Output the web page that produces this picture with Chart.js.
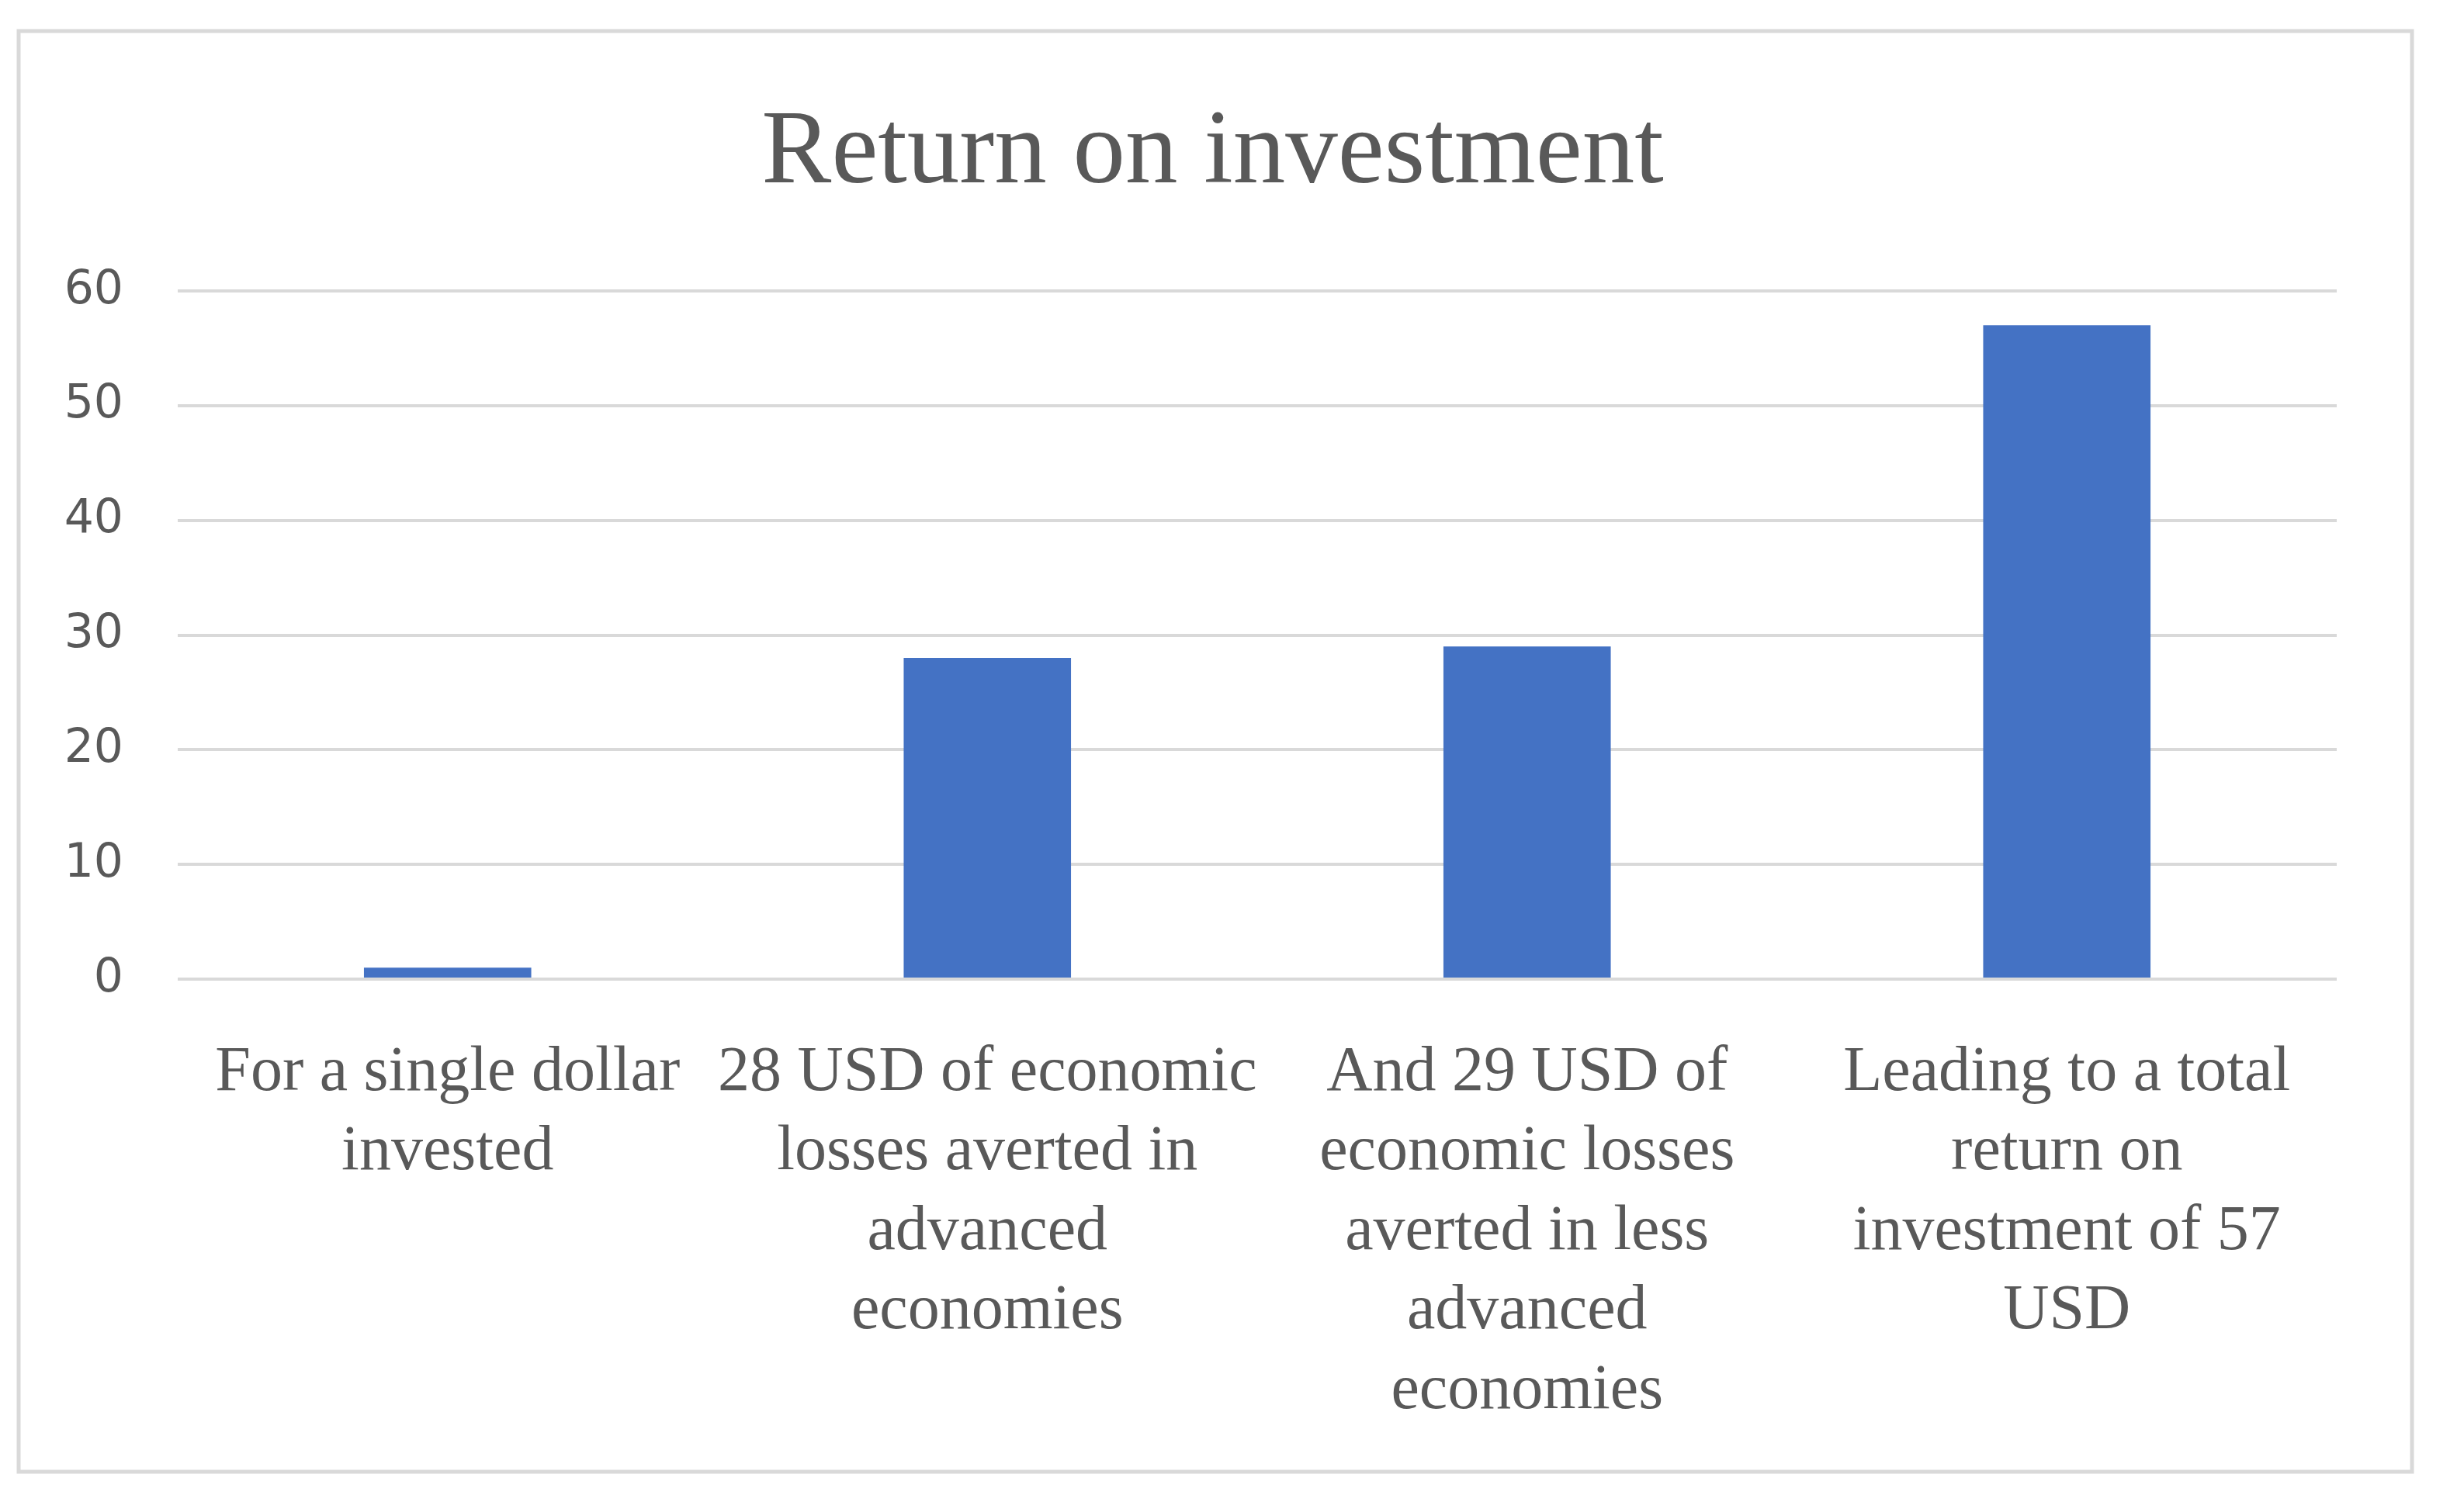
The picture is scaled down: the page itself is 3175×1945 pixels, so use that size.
<!DOCTYPE html>
<html>
<head>
<meta charset="utf-8">
<title>Return on investment</title>
<script src="https://cdn.jsdelivr.net/npm/chart.js@4.4.1/dist/chart.umd.min.js"></script>
<style>
  html, body { margin: 0; padding: 0; background: #ffffff; }
  #chart { display: block; }
</style>
</head>
<body>
<canvas id="chart" width="3175" height="1945"></canvas>
<script>
// Dados do gráfico
const titulo = 'Return on investment';
const categorias = [
    ['For a single dollar', 'invested'],
    ['28 USD of economic', 'losses averted in', 'advanced', 'economies'],
    ['And 29 USD of', 'economic losses', 'averted in less', 'advanced', 'economies'],
    ['Leading to a total', 'return on', 'investment of 57', 'USD']
];
const valores = [1, 28, 29, 57];
const eixoMin = 0;
const eixoMax = 60;
const eixoPasso = 10;

// Moldura cinza em volta do gráfico
const moldura = {
    id: 'moldura',
    beforeDraw(chart) {
        const ctx = chart.ctx;
        ctx.save();
        ctx.fillStyle = '#ffffff';
        ctx.fillRect(0, 0, chart.width, chart.height);
        ctx.strokeStyle = '#d9d9d9';
        ctx.lineWidth = 5;
        ctx.strokeRect(24, 40, 3084, 1857);
        ctx.restore();
    }
};

document.addEventListener('DOMContentLoaded', function() {
    const ctx = document.getElementById('chart').getContext('2d');

    new Chart(ctx, {
        type: 'bar',
        data: {
            labels: categorias,
            datasets: [{
                data: valores,
                backgroundColor: '#4472C4',
                borderWidth: 0,
                barPercentage: 0.31,
                categoryPercentage: 1
            }]
        },
        options: {
            responsive: false,
            animation: false,
            layout: {
                padding: { left: 0, right: 50, top: 0, bottom: 0 }
            },
            scales: {
                x: {
                    grid: { display: false },
                    border: { display: false },
                    ticks: {
                        autoSkip: false,
                        maxRotation: 0,
                        minRotation: 0,
                        padding: 62,
                        color: '#595959',
                        font: { family: 'Liberation Serif', size: 82, lineHeight: 1.25 }
                    },
                    afterFit: function(scale) { scale.height = 683; }
                },
                y: {
                    min: eixoMin,
                    max: eixoMax,
                    grid: { color: '#d9d9d9', lineWidth: 4, drawTicks: false },
                    border: { display: false },
                    ticks: {
                        stepSize: eixoPasso,
                        padding: 70,
                        color: '#595959',
                        font: { family: 'DejaVu Sans', size: 60 }
                    },
                    afterFit: function(scale) { scale.width = 229; }
                },
                y2: {
                    position: 'right',
                    grid: { display: false },
                    border: { display: false },
                    ticks: { display: false },
                    afterFit: function(scale) { scale.width = 114; }
                }
            },
            plugins: {
                legend: { display: false },
                tooltip: { enabled: false },
                title: {
                    display: true,
                    text: titulo,
                    color: '#595959',
                    font: { family: 'Liberation Serif', size: 135, weight: 'normal', lineHeight: 1.2 },
                    padding: { top: 119, bottom: 94 }
                }
            }
        },
        plugins: [moldura]
    });
});
</script>
</body>
</html>
